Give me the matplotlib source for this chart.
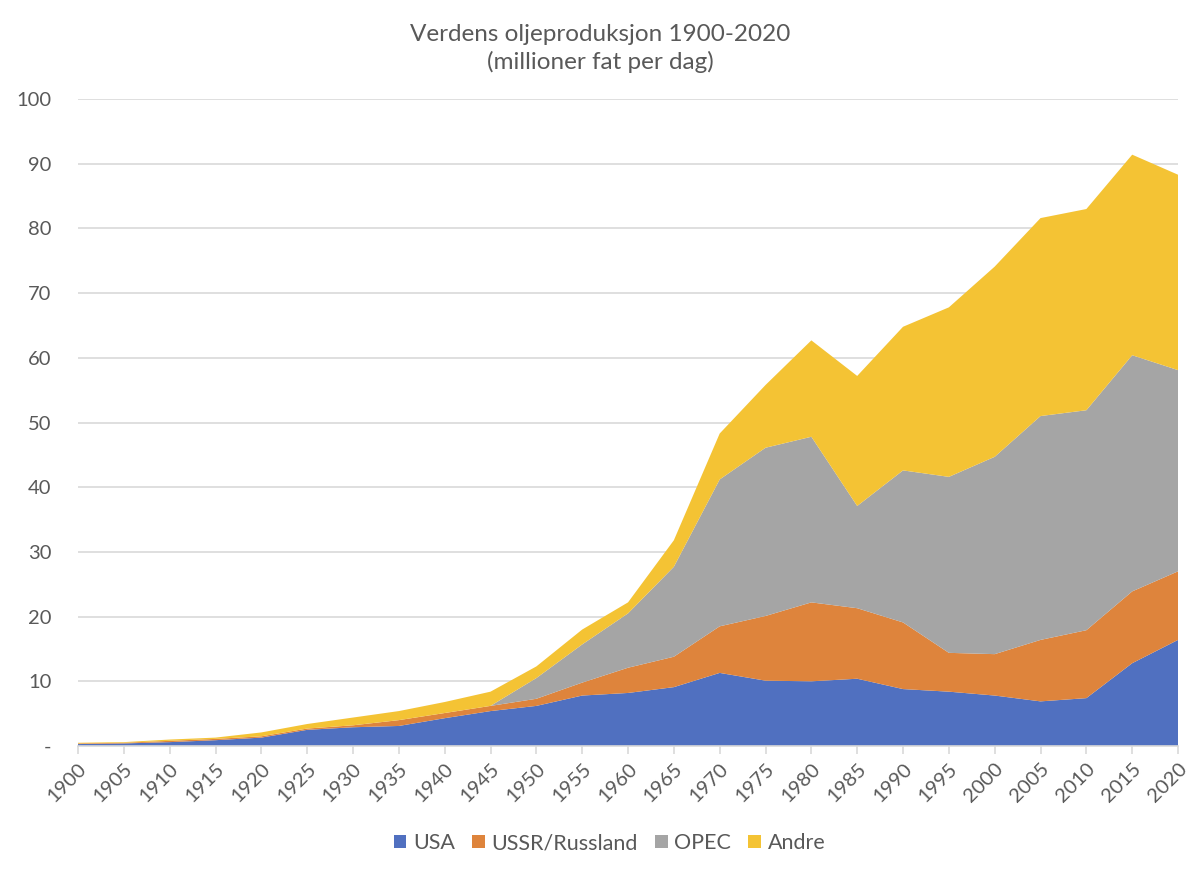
import numpy as np
import matplotlib.pyplot as plt
from matplotlib.patches import Patch

#%% data (millions of barrels per day)
years = list(range(1900, 2021, 5))
usa = [0.3, 0.4, 0.6, 0.9, 1.3, 2.5, 2.9, 3.1, 4.3, 5.4, 6.2, 7.8, 8.2,
       9.1, 11.3, 10.1, 10.0, 10.4, 8.8, 8.4, 7.8, 6.9, 7.4, 12.8, 16.4]
ussr = [0.1, 0.1, 0.2, 0.2, 0.2, 0.2, 0.3, 0.9, 0.8, 0.8, 1.1, 2.0, 3.9,
        4.7, 7.2, 10.0, 12.2, 10.9, 10.3, 6.0, 6.4, 9.5, 10.5, 11.1, 10.6]
opec = [0, 0, 0, 0, 0, 0, 0, 0, 0, 0, 3.2, 5.9, 8.4,
        13.9, 22.7, 26.0, 25.6, 15.8, 23.5, 27.2, 30.5, 34.6, 34.0, 36.5, 31.1]
andre = [0.1, 0.1, 0.2, 0.2, 0.6, 0.7, 1.2, 1.4, 1.7, 2.2, 1.8, 2.3, 1.7,
         4.1, 7.1, 9.7, 14.9, 20.1, 22.2, 26.2, 29.4, 30.6, 31.1, 31.0, 30.2]
labels = ["USA", "USSR/Russland", "OPEC", "Andre"]
colors = ["#5070C0", "#DE843C", "#A5A5A5", "#F4C334"]

plt.rcParams['font.family'] = ['Lato', 'DejaVu Sans']
txt = "#595959"

#%% plot
fig = plt.figure(figsize=(12, 8.71), dpi=100)
ax = fig.add_axes([0.065, 0.1435, 0.9167, 0.7428])

ax.stackplot(years, usa, ussr, opec, andre, colors=colors, linewidth=0)

ax.set_xlim(1900, 2020)
ax.set_ylim(0, 100)
ax.set_yticks(range(0, 101, 10))
ax.set_yticklabels(["-"] + [str(v) for v in range(10, 101, 10)])
ax.set_xticks(years)
ax.set_xticklabels([str(y) for y in years], rotation=45, ha="right",
                   rotation_mode="anchor")
ax.grid(axis="y", color="#D9D9D9", linewidth=1.2)
ax.set_axisbelow(True)

for s in ["top", "right", "left"]:
    ax.spines[s].set_visible(False)
ax.spines["bottom"].set_color("#D9D9D9")
ax.spines["bottom"].set_linewidth(1.2)
ax.spines["bottom"].set_zorder(5)

ax.tick_params(axis="y", length=0, pad=19, labelsize=14.5, labelcolor=txt)
ax.tick_params(axis="x", length=6, width=1.2, color="#D9D9D9",
               labelsize=14.5, labelcolor=txt, pad=4)

fig.text(0.5, 0.972, "Verdens oljeproduksjon 1900-2020\n(millioner fat per dag)",
         ha="center", va="top", fontsize=17.5, color=txt, linespacing=1.3)

handles = [Patch(facecolor=c, label=l) for c, l in zip(colors, labels)]
fig.legend(handles=handles, loc="center", bbox_to_anchor=(0.508, 0.032),
           ncol=4, frameon=False, fontsize=15.5, labelcolor=txt,
           handlelength=0.6, handleheight=0.6, handletextpad=0.3,
           columnspacing=0.8)

fig.savefig("out.png", dpi=100)
